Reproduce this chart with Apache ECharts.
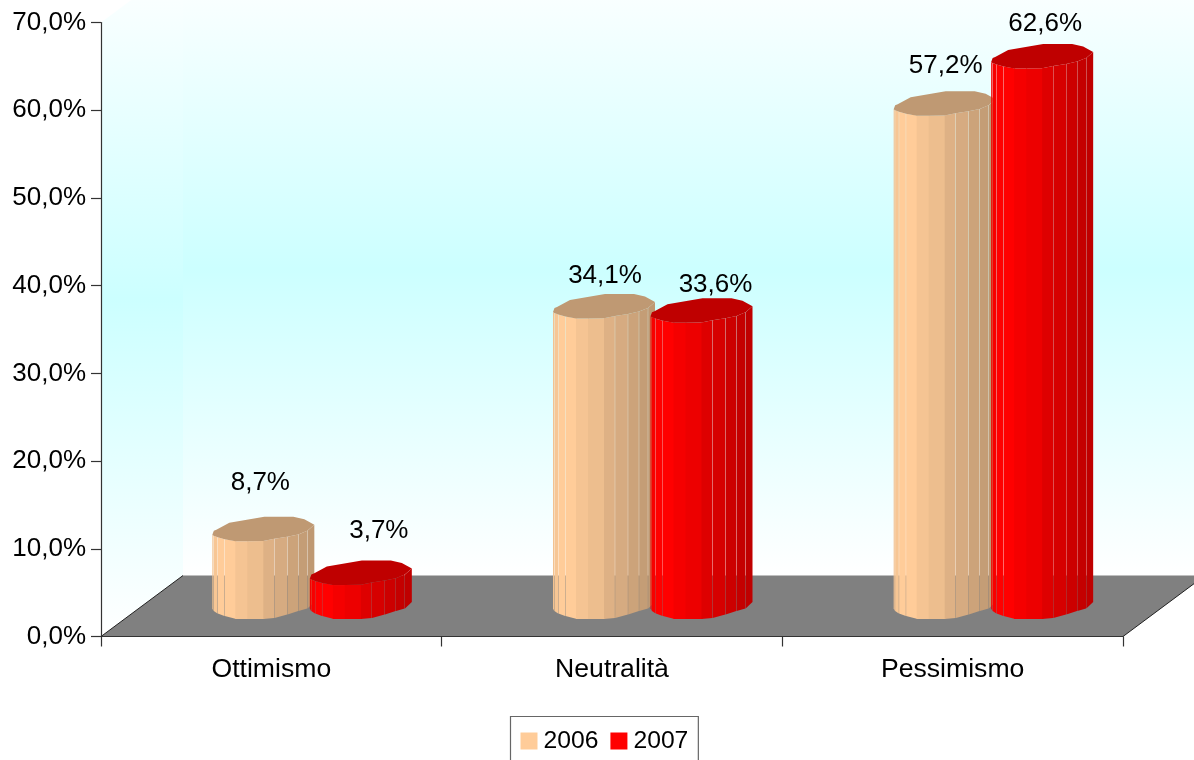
<!DOCTYPE html>
<html>
<head>
<meta charset="utf-8">
<style>html,body{margin:0;padding:0;background:#fff;overflow:hidden}#c{width:1194px;height:760px}</style>
<script src="https://cdn.jsdelivr.net/npm/echarts@6/dist/echarts.min.js"></script>
</head>
<body>
<div id="c"></div>
<script>
// ---- data ----
const categories = ['Ottimismo', 'Neutralità', 'Pessimismo'];
const seriesNames = ['2006', '2007'];
const values2006 = [8.7, 34.1, 57.2];
const values2007 = [3.7, 33.6, 62.6];

// ---- look ----
const FONT = '"Liberation Sans", Arial, sans-serif';
const FS_Y = 26, FS_X = 26.6, FS_LABEL = 26, FS_LEGEND = 24.7;
const GL = 101, GT = 22.5, GW = 1022, GH = 614;
const DX = 82, DY = 61;            // floor depth
const SHIFT_X = DX / 2, SHIFT_Y = -30.5; // bars stand mid-depth
// manually placed data labels: [dx from bar left, dy from bar top centre]
const labelNudge2006 = [[48, -47], [52, -31], [52, -38]];
const labelNudge2007 = [[69, -43], [65, -26], [54, -33]];
// cylinder facets
const edgeX = [0, 1.3, 5.3, 12.3, 23, 35, 51, 62, 75, 86, 95, 102];
const topDy = [5, 6, 7.5, 9.5, 11.5, 11.5, 11.3, 9, 7, 4.7, 1, -5];
const botDy = [2.5, 5, 7.5, 10, 13, 13, 13, 12, 8.5, 5, 2.5, -4];
const shade = [.95, .97, 1, 1, .96, .93, .87, .84, .80, .77, .75];
const seam  = [1, 1, 1, 0, 0, 0, 1, 1, 1, 1, 0];  // 1 = a hairline gap after this facet
const backLid = [[0, 5], [1.5, 1], [4, 0], [17, -7], [52, -13], [81, -13], [92, -10.5], [102, -5]];
const LID = .75;
const GAP = .15;

function mix(hex, k) {
  const n = parseInt(hex.slice(1), 16);
  const r = Math.round((n >> 16 & 255) * k), g = Math.round((n >> 8 & 255) * k), b = Math.round((n & 255) * k);
  return 'rgb(' + r + ',' + g + ',' + b + ')';
}

function cylinder(color, barOffset, nudges) {
  return function (params, api) {
    const i = api.value(0), v = api.value(1);
    const c = api.coord([i, v]);
    const base = api.coord([i, 0]);
    const left = c[0] + SHIFT_X + barOffset;
    const yt = c[1] + SHIFT_Y, yb = base[1] + SHIFT_Y;
    const children = [];
    for (let s = 0; s < shade.length; s++) {
      const x0 = left + edgeX[s] + (s > 0 && seam[s - 1] ? GAP : 0);
      const x1 = left + edgeX[s + 1] + (seam[s] ? -GAP : (s === shade.length - 1 ? 0 : 1));
      children.push({
        type: 'polygon', silent: true,
        shape: { points: [[x0, yt + topDy[s]], [x1, yt + topDy[s + 1]], [x1, yb + botDy[s + 1]], [x0, yb + botDy[s]]] },
        style: { fill: mix(color, shade[s]) }
      });
    }
    const lid = backLid.map(p => [left + p[0], yt + p[1]]);
    for (let s = edgeX.length - 2; s > 0; s--) lid.push([left + edgeX[s], yt + topDy[s]]);
    children.push({ type: 'polygon', silent: true, shape: { points: lid }, style: { fill: mix(color, LID) } });
    const n = nudges[params.dataIndex];
    children.push({
      type: 'text', silent: true, z2: 100,
      style: {
        text: v.toFixed(1).replace('.', ',') + '%', x: left + n[0], y: yt + n[1],
        fill: '#000', fontFamily: FONT, fontSize: FS_LABEL, align: 'center', verticalAlign: 'middle'
      }
    });
    return { type: 'group', children };
  };
}

const wallFill = () => new echarts.graphic.LinearGradient(0, 0, 0, 1, [
  { offset: 0, color: '#ffffff' }, { offset: .5, color: '#ccffff' }, { offset: 1, color: '#ffffff' }
]);
const x0 = GL, x1 = GL + GW, yTop = GT, yBot = GT + GH;

const chart = echarts.init(document.getElementById('c'), null, { renderer: 'canvas' });
chart.setOption({
  animation: false,
  backgroundColor: '#ffffff',
  tooltip: { show: false },
  grid: { left: GL, top: GT, width: GW, height: GH, containLabel: false },
  graphic: [
    { type: 'polygon', silent: true, z: -5, shape: { points: [[x0 + DX, yTop - DY], [x1 + DX, yTop - DY], [x1 + DX, yBot - DY], [x0 + DX, yBot - DY]] }, style: { fill: wallFill() } },
    { type: 'polygon', silent: true, z: -5, shape: { points: [[x0, yTop], [x0 + DX, yTop - DY], [x0 + DX, yBot - DY], [x0, yBot]] }, style: { fill: wallFill() } },
    { type: 'polygon', silent: true, z: -4, shape: { points: [[x0, yBot], [x0 + DX, yBot - DY], [x1 + DX, yBot - DY], [x1, yBot]] }, style: { fill: '#808080' } },
    { type: 'polyline', silent: true, z: -3, shape: { points: [[x0, yBot], [x0 + DX, yBot - DY]] }, style: { stroke: '#222', lineWidth: 1, fill: 'none' } },
    { type: 'polyline', silent: true, z: -3, shape: { points: [[x1, yBot], [x1 + DX, yBot - DY]] }, style: { stroke: '#222', lineWidth: 1, fill: 'none' } }
  ],
  legend: {
    left: 510.5, top: 716.5,
    padding: [12, 10, 24, 10],
    itemWidth: 17, itemHeight: 17, itemGap: 12,
    borderColor: '#666', borderWidth: 1.2, backgroundColor: '#fff',
    icon: 'rect',
    textStyle: { color: '#000', fontFamily: FONT, fontSize: FS_LEGEND, padding: [0, 0, 0, 1] },
    data: seriesNames
  },
  xAxis: {
    type: 'category', data: categories, boundaryGap: true,
    axisLine: { lineStyle: { color: '#333', width: 1.2 } },
    axisTick: { show: true, length: 10, alignWithLabel: false, lineStyle: { color: '#333', width: 1.2 } },
    axisLabel: { color: '#000', fontFamily: FONT, fontSize: FS_X, margin: 20, interval: 0 },
    splitLine: { show: false }
  },
  yAxis: {
    type: 'value', min: 0, max: 70, interval: 10,
    axisLine: { show: true, lineStyle: { color: '#333', width: 1.2 } },
    axisTick: { show: true, length: 10, lineStyle: { color: '#333', width: 1.2 } },
    axisLabel: { color: '#000', fontFamily: FONT, fontSize: FS_Y, margin: 15, padding: [3, 0, 0, 0], formatter: v => v.toFixed(1).replace('.', ',') + '%' },
    splitLine: { show: false }
  },
  series: [
    {
      name: seriesNames[0], type: 'custom', clip: false, silent: true,
      itemStyle: { color: '#ffcc99' }, encode: { x: 0, y: 1 },
      data: values2006.map((v, i) => [i, v]),
      renderItem: cylinder('#ffcc99', -100, labelNudge2006)
    },
    {
      name: seriesNames[1], type: 'custom', clip: false, silent: true,
      itemStyle: { color: '#ff0000' }, encode: { x: 0, y: 1 },
      data: values2007.map((v, i) => [i, v]),
      renderItem: cylinder('#ff0000', -2.5, labelNudge2007)
    }
  ]
});
</script>
</body>
</html>
